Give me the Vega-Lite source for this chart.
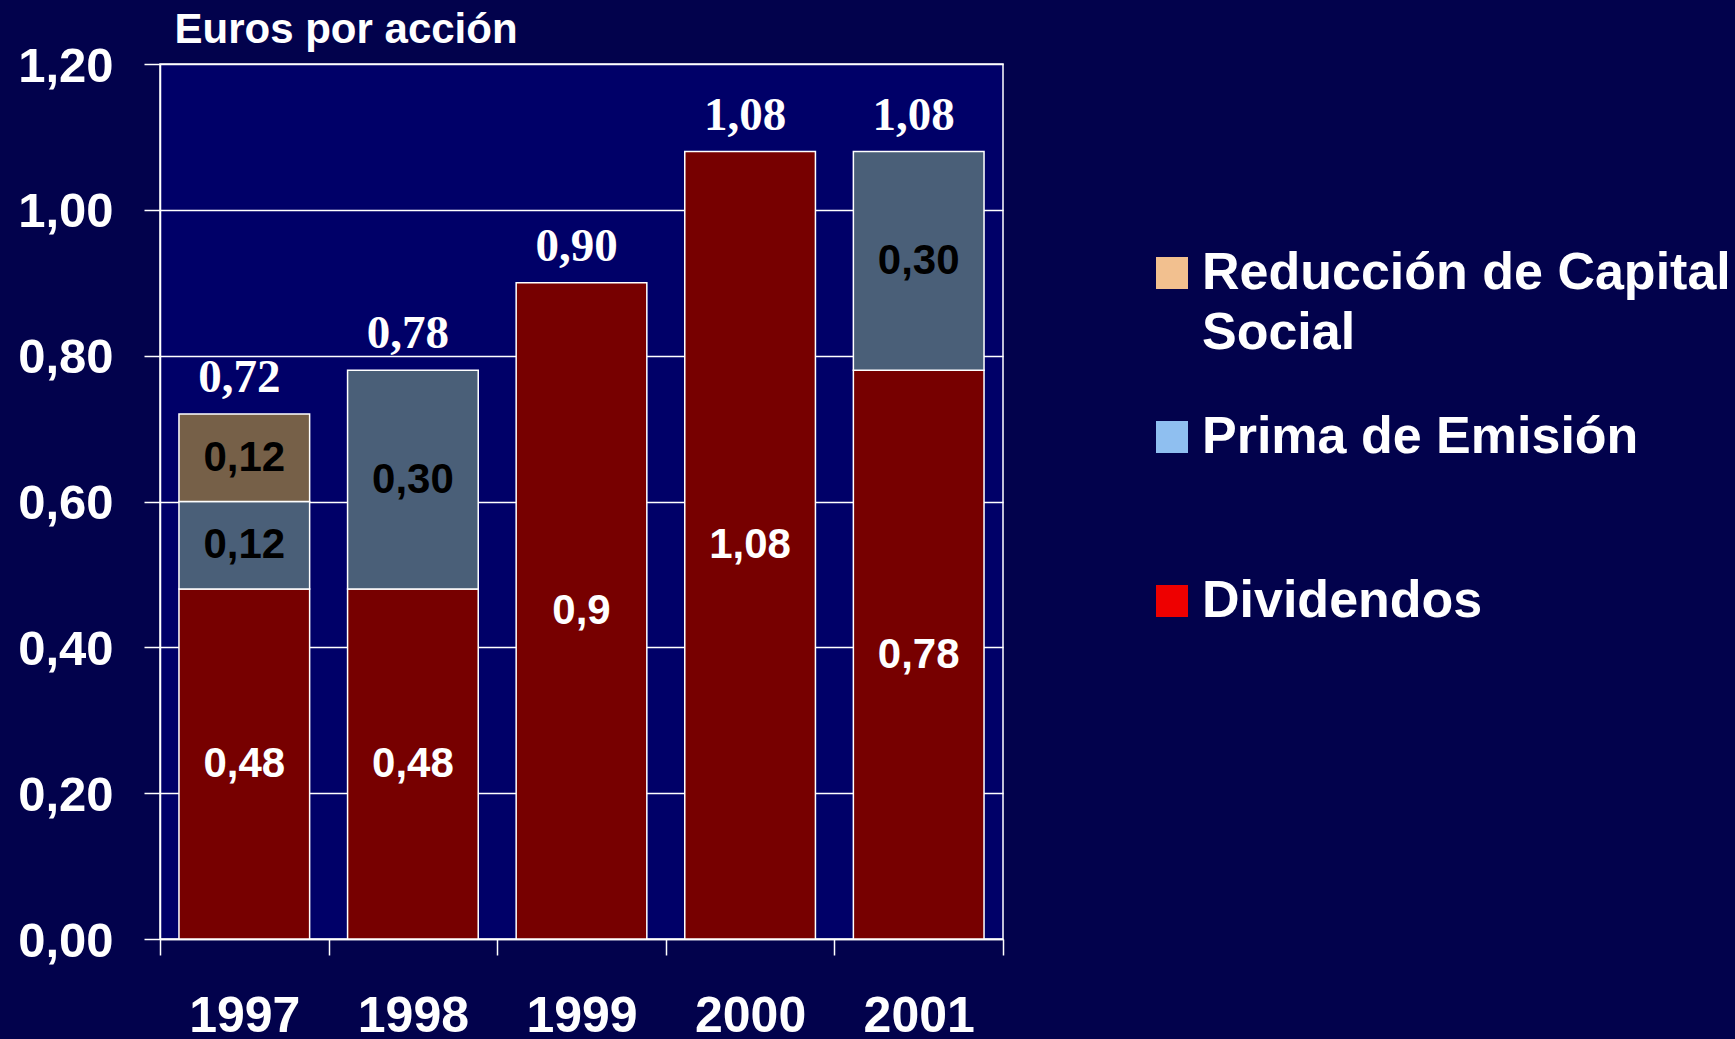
{
  "$schema": "https://vega.github.io/schema/vega-lite/v6.json",
  "width": 843,
  "height": 875,
  "autosize": {"type": "none"},
  "padding": {"left": 160, "top": 64, "right": 732, "bottom": 100},
  "background": "#02024c",
  "config": {
    "locale": {"number": {"decimal": ",", "thousands": ".", "grouping": [3], "currency": ["", " €"]}},
    "view": {"fill": "#000068", "stroke": "#ffffff", "strokeWidth": 1.5},
    "font": "Liberation Sans",
    "style": {"guide-label": {"lineHeight": 60}}
  },
  "data": {
    "values": [
      {"año": "1997", "serie": "Dividendos", "orden": 1, "valor": 0.48, "etiqueta": "0,48"},
      {"año": "1997", "serie": "Prima de Emisión", "orden": 2, "valor": 0.12, "etiqueta": "0,12"},
      {"año": "1997", "serie": "Reducción de Capital Social", "orden": 3, "valor": 0.12, "etiqueta": "0,12"},
      {"año": "1998", "serie": "Dividendos", "orden": 1, "valor": 0.48, "etiqueta": "0,48"},
      {"año": "1998", "serie": "Prima de Emisión", "orden": 2, "valor": 0.30, "etiqueta": "0,30"},
      {"año": "1999", "serie": "Dividendos", "orden": 1, "valor": 0.90, "etiqueta": "0,9"},
      {"año": "2000", "serie": "Dividendos", "orden": 1, "valor": 1.08, "etiqueta": "1,08"},
      {"año": "2001", "serie": "Dividendos", "orden": 1, "valor": 0.78, "etiqueta": "0,78"},
      {"año": "2001", "serie": "Prima de Emisión", "orden": 2, "valor": 0.30, "etiqueta": "0,30"}
    ]
  },
  "resolve": {"scale": {"color": "independent"}, "legend": {"color": "independent"}},
  "encoding": {
    "x": {
      "field": "año",
      "type": "nominal",
      "scale": {"paddingInner": 0, "paddingOuter": 0},
      "axis": {
        "title": null,
        "labelAngle": 0,
        "labelFont": "Liberation Sans",
        "labelFontSize": 50,
        "labelFontWeight": "bold",
        "labelColor": "#ffffff",
        "labelPadding": 36,
        "tickBand": "extent",
        "tickSize": 16,
        "tickColor": "#ffffff",
        "tickWidth": 1.5,
        "domainColor": "#ffffff",
        "domainWidth": 1.5
      }
    }
  },
  "layer": [
    {
      "mark": {"type": "bar", "stroke": "#ffffff", "strokeWidth": 1.5, "width": {"band": 0.775}},
      "encoding": {
        "y": {
          "field": "valor",
          "type": "quantitative",
          "stack": "zero",
          "title": "Euros por acción",
          "scale": {"domain": [0, 1.2], "nice": false},
          "axis": {
            "values": [0, 0.2, 0.4, 0.6, 0.8, 1.0, 1.2],
            "format": ".2f",
            "grid": true,
            "gridColor": "#ffffff",
            "gridWidth": 1.5,
            "gridOpacity": 1,
            "domainColor": "#ffffff",
            "domainWidth": 1.5,
            "tickColor": "#ffffff",
            "tickSize": 16,
            "tickWidth": 1.5,
            "labelFont": "Liberation Sans",
            "labelFontSize": 49,
            "labelFontWeight": "bold",
            "labelColor": "#ffffff",
            "labelPadding": 31,
            "labelOffset": 2,
            "titleAngle": 0,
            "titleAlign": "left",
            "titleBaseline": "alphabetic",
            "titleX": 14,
            "titleY": -22,
            "titleFont": "Liberation Sans",
            "titleFontSize": 42,
            "titleFontWeight": "bold",
            "titleColor": "#ffffff"
          }
        },
        "color": {
          "field": "serie",
          "type": "nominal",
          "scale": {
            "domain": ["Reducción de Capital Social", "Prima de Emisión", "Dividendos"],
            "range": ["#766048", "#4a5f78", "#770000"]
          },
          "legend": null
        },
        "order": {"field": "orden", "type": "quantitative"}
      }
    },
    {
      "mark": {"type": "square", "opacity": 0, "filled": true},
      "encoding": {
        "y": {"field": "valor", "type": "quantitative", "title": "Euros por acción"},
        "color": {
          "field": "serie",
          "type": "nominal",
          "scale": {
            "domain": ["Reducción de Capital Social", "Prima de Emisión", "Dividendos"],
            "range": ["#f2c08f", "#8fbff0", "#ee0000"]
          },
          "legend": {
            "orient": "none",
            "legendX": 986,
            "legendY": 183,
            "title": null,
            "padding": 0,
            "symbolType": "square",
            "symbolSize": 1024,
            "symbolStrokeWidth": 0,
            "symbolOpacity": 1,
            "labelFont": "Liberation Sans",
            "labelFontSize": 52,
            "labelFontWeight": "bold",
            "labelColor": "#ffffff",
            "labelLimit": 800,
            "labelOffset": 4,
            "rowPadding": 52,
            "gridAlign": "all",
            "labelExpr": "datum.label == 'Reducción de Capital Social' ? ['Reducción de Capital', 'Social'] : datum.label"
          }
        }
      }
    },
    {
      "transform": [
        {"stack": "valor", "groupby": ["año"], "sort": [{"field": "orden", "order": "ascending"}], "as": ["v0", "v1"]},
        {"calculate": "(datum.v0 + datum.v1) / 2", "as": "medio"}
      ],
      "mark": {"type": "text", "font": "Liberation Sans", "fontSize": 42, "fontWeight": "bold", "baseline": "middle"},
      "encoding": {
        "y": {"field": "medio", "type": "quantitative", "title": "Euros por acción"},
        "text": {"field": "etiqueta", "type": "nominal"},
        "color": {"condition": {"test": "datum.serie === 'Dividendos'", "value": "#ffffff"}, "value": "#000000"}
      }
    },
    {
      "transform": [
        {"aggregate": [{"op": "sum", "field": "valor", "as": "total"}], "groupby": ["año"]}
      ],
      "mark": {"type": "text", "font": "Liberation Serif", "fontSize": 47, "fontWeight": "bold", "color": "#ffffff", "baseline": "alphabetic", "dy": -22, "dx": -5},
      "encoding": {
        "y": {"field": "total", "type": "quantitative", "title": "Euros por acción"},
        "text": {"field": "total", "type": "quantitative", "format": ".2f"}
      }
    }
  ]
}
